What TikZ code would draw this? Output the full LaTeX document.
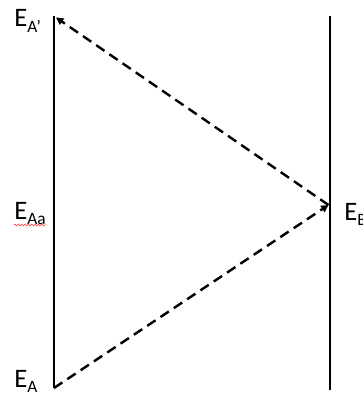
\documentclass[tikz,border=0pt]{standalone}
\usepackage{fontspec}
\setmainfont{Carlito}
\usetikzlibrary{positioning,arrows.meta,decorations.pathmorphing}

\begin{document}
\begin{tikzpicture}[x=0.75pt,y=-0.75pt,
wall/.style={line width=1.9pt,draw=black},
ray/.style={line width=1.8pt,dash pattern=on 7.5pt off 4.5pt,-{Triangle[length=5.5pt,width=5.5pt]}},
lbl/.style={anchor=base west,inner sep=0pt,font=\fontsize{20}{24}\selectfont}]
\useasboundingbox (0,0) rectangle (362,395);
% two walls
\coordinate (atop) at (54,16);
\coordinate (abot) at (54,388);
\coordinate (btop) at (330,16);
\coordinate (bbot) at (330,390);
\coordinate (hit) at (328.5,205);
\coordinate (back) at (56,17.5);
\draw[wall] (atop)--(abot);
\draw[wall] (btop)--(bbot);
% light path
\draw[ray] (abot)--(hit);
\draw[ray] (hit)--(back);
% labels
\node[lbl] (ea1) at (14,27) {E\raisebox{-3.8pt}{\fontsize{13}{15}\selectfont A’}};
\node[lbl] (eaa) at (14,219) {E\raisebox{-3.8pt}{\fontsize{13}{15}\selectfont Aa}};
\node[lbl] (ea) at (14,387) {E\raisebox{-3.8pt}{\fontsize{13}{15}\selectfont A}};
\node[lbl] (eb) at (344,220) {E\raisebox{-3.8pt}{\fontsize{13}{15}\selectfont B}};
\draw[red!70,line width=0.5pt,decorate,decoration={snake,amplitude=0.7pt,segment length=2.5pt}]
  (14,225)--(46,225);
\end{tikzpicture}
\end{document}
